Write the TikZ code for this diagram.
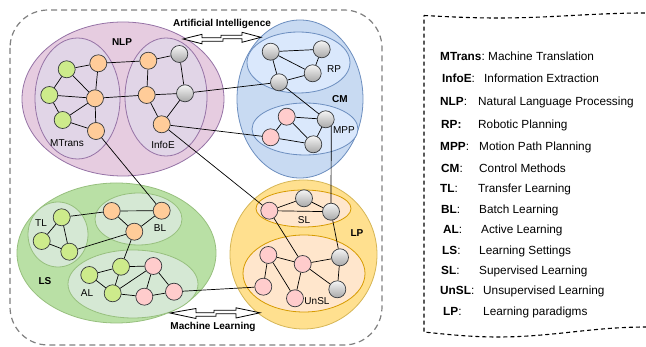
\documentclass[tikz,border=0pt]{standalone}
\usepackage{fontspec}
\setmainfont{Liberation Sans}
\definecolor{ndborder}{HTML}{36393D}
\definecolor{ndgreen}{HTML}{CDEB8B}
\definecolor{ndorange}{HTML}{FFCC99}
\definecolor{ndpink}{HTML}{FFCCCC}
\definecolor{graytop}{HTML}{F5F5F5}
\definecolor{graybot}{HTML}{A8A8A8}
\definecolor{nlpbig}{HTML}{E6CCE0}
\definecolor{nlpin}{HTML}{E1D5E7}
\definecolor{nlpline}{HTML}{9673A6}
\definecolor{cmbig}{HTML}{C8DAF2}
\definecolor{cmin}{HTML}{DAE8FC}
\definecolor{cmline}{HTML}{6C8EBF}
\definecolor{lsbig}{HTML}{B9E0A5}
\definecolor{lsin}{HTML}{D5E8D4}
\definecolor{lsline}{HTML}{97C07E}
\definecolor{lpbig}{HTML}{FFE08F}
\definecolor{lpin}{HTML}{FFE6CC}
\definecolor{lpline}{HTML}{D6B656}
\definecolor{lpinline}{HTML}{D79B00}
\definecolor{outerline}{HTML}{808080}
\begin{document}
\begin{tikzpicture}[x=1pt,y=-1pt,
  nd/.style={circle,draw=ndborder,line width=0.7pt,minimum size=17pt,inner sep=0pt},
  gnode/.style={nd,fill=ndgreen},
  onode/.style={nd,fill=ndorange},
  pnode/.style={nd,fill=ndpink},
  ynode/.style={nd,top color=graytop,bottom color=graybot},
  conn/.style={draw=black,line width=0.7pt},
  lab/.style={font=\fontsize{10}{12}\selectfont,inner sep=0pt},
  blab/.style={font=\fontsize{10}{12}\selectfont\bfseries,inner sep=0pt},
  legk/.style={anchor=west,inner sep=0pt,font=\fontsize{11.8}{14}\selectfont,text height=8.5pt,text depth=2.5pt},
  bigell/.style={line width=0.8pt},
  arrowshape/.style={draw=black,fill=white,line width=0.8pt,line join=miter}
]
\useasboundingbox (0,0) rectangle (646,347);
\fill[white] (0,0) rectangle (646,347);

% outer dashed frame
\draw[outerline,line width=1.2pt,dash pattern=on 6pt off 4pt,rounded corners=38pt] (10,10) rectangle (382,345);

% legend tape shape
\begin{scope}
\clip (0,0) rectangle (646,347);
\draw[black,line width=1.1pt,dash pattern=on 4pt off 3pt]
  (424,15.5) sin (498,18) cos (572,15.5) sin (646,13) cos (720,15.5)
  -- (720,332) sin (646,327) cos (572,332) sin (498,337) cos (424,332) -- cycle;
\end{scope}

% ellipses
\filldraw[bigell,fill=nlpbig,draw=nlpline] (123,99) ellipse [x radius=101pt,y radius=77pt];
\filldraw[bigell,fill=nlpin,draw=nlpline] (77.5,98.5) ellipse [x radius=42.5pt,y radius=60.5pt];
\filldraw[bigell,fill=nlpin,draw=nlpline] (166,97) ellipse [x radius=41pt,y radius=59pt];

\filldraw[bigell,fill=cmbig,draw=cmline] (300,99) ellipse [x radius=63pt,y radius=79pt];
\filldraw[bigell,fill=cmin,draw=cmline] (298.5,62.5) ellipse [x radius=51.5pt,y radius=30.5pt];
\filldraw[bigell,fill=cmin,draw=cmline] (305,129) ellipse [x radius=53pt,y radius=26pt];

\filldraw[bigell,fill=lsbig,draw=lsline] (116.5,253) ellipse [x radius=99.5pt,y radius=70pt];
\filldraw[bigell,fill=lsin,draw=lsline] (58,234.5) ellipse [x radius=30pt,y radius=32.5pt];
\filldraw[bigell,fill=lsin,draw=lsline] (138.5,219) ellipse [x radius=43.5pt,y radius=26pt];
\filldraw[bigell,fill=lsin,draw=lsline] (133,284) ellipse [x radius=65pt,y radius=34pt];

\filldraw[bigell,fill=lpbig,draw=lpline] (303.5,254.5) ellipse [x radius=73.5pt,y radius=74.5pt];
\filldraw[bigell,fill=lpin,draw=lpinline] (303.5,208.5) ellipse [x radius=47.5pt,y radius=18.5pt];
\filldraw[bigell,fill=lpin,draw=lpinline] (304,273.5) ellipse [x radius=61pt,y radius=38.5pt];

% double arrows
\draw[arrowshape] (183,39) -- (202,34.3) -- (202,37.8) -- (221,37.8) -- (221,35.3) -- (242,35.3) -- (242,32.3)
  -- (261,37.3) -- (242,42.3) -- (242,38.8) -- (223,38.8) -- (223,41.3) -- (202,41.3) -- (202,43.8) -- cycle;
\draw[arrowshape] (170,313) -- (196,308.5) -- (196,312.8) -- (214,312.8) -- (214,310.3) -- (236,310.3) -- (236,307.8)
  -- (260,312.8) -- (236,318) -- (236,313.8) -- (216,313.8) -- (216,316.3) -- (196,316.3) -- (196,318.5) -- cycle;

% labels
\node[blab] (tAI) at (222,24) {Artificial Intelligence};
\node[blab] (tML) at (213,327) {Machine Learning};
\node[blab] (tNLP) at (122,42) {NLP};
\node[lab] (tMT) at (67,143) {MTrans};
\node[lab] (tIE) at (163,145) {InfoE};
\node[blab] (tCM) at (340,99) {CM};
\node[lab] (tRP) at (334,69) {RP};
\node[lab] (tMPP) at (344,130) {MPP};
\node[blab] (tLS) at (45,281) {LS};
\node[lab] (tTL) at (41,223) {TL};
\node[lab] (tBL) at (160,228) {BL};
\node[lab] (tAL) at (87,293) {AL};
\node[blab] (tLP) at (357,233) {LP};
\node[lab] (tSL) at (304,220) {SL};
\node[lab] (tUn) at (317,301) {UnSL};

% NLP nodes
\node[gnode] (ng1) at (66.7,69.3) {};
\node[gnode] (ng2) at (49.3,95) {};
\node[gnode] (ng3) at (62.7,120) {};
\node[onode] (noa) at (98.3,63.3) {};
\node[onode] (nob) at (95,98.3) {};
\node[onode] (noc) at (96,131) {};
\node[onode] (iot) at (148.3,60.7) {};
\node[onode] (iom) at (146.7,95) {};
\node[onode] (iob) at (161.7,124.3) {};
\node[ynode] (igt) at (179.3,54) {};
\node[ynode] (igm) at (185,93.3) {};

% CM nodes
\node[ynode] (r1) at (270.7,51.7) {};
\node[ynode] (r2) at (321.7,49.3) {};
\node[ynode] (r3) at (312.7,73.3) {};
\node[ynode] (r4) at (279,82.3) {};
\node[pnode] (mpt) at (286.7,116.7) {};
\node[pnode] (mpl) at (270.7,137.3) {};
\node[ynode] (mgr) at (325.7,119.3) {};
\node[ynode] (mgb) at (313.3,144.3) {};

% LS nodes
\node[gnode] (t1) at (61.7,217.3) {};
\node[gnode] (t2) at (41.7,241) {};
\node[gnode] (t3) at (69.3,251.7) {};
\node[onode] (b1) at (111.7,211) {};
\node[onode] (b2) at (161.7,210.7) {};
\node[onode] (b3) at (134.3,231.7) {};
\node[gnode] (a1) at (89.3,275) {};
\node[gnode] (a2) at (121,266.7) {};
\node[gnode] (a3) at (112.7,293.3) {};
\node[pnode] (ap1) at (153.3,266) {};
\node[pnode] (ap2) at (144.3,296.7) {};
\node[pnode] (ap3) at (174,291.7) {};

% LP nodes
\node[pnode] (sp1) at (269.3,210.7) {};
\node[ynode] (sg1) at (304,198.3) {};
\node[ynode] (sg2) at (331,211.7) {};
\node[pnode] (u1) at (268.3,255) {};
\node[pnode] (u2) at (302.7,264) {};
\node[pnode] (u3) at (263.3,286.7) {};
\node[pnode] (u4) at (295,298.3) {};
\node[ynode] (ug1) at (340,257.3) {};
\node[ynode] (ug2) at (337.3,289.3) {};

% connectors NLP
\draw[conn] (ng1) -- (noa);
\draw[conn] (ng1) -- (ng2);
\draw[conn] (ng1) -- (nob);
\draw[conn] (ng2) -- (nob);
\draw[conn] (ng2) -- (ng3);
\draw[conn] (ng3) -- (nob);
\draw[conn] (ng3) -- (noc);
\draw[conn] (noa) -- (nob);
\draw[conn] (nob) -- (noc);
\draw[conn] (noa) -- (iot);
\draw[conn] (nob) -- (iom);
\draw[conn] (iot) -- (igt);
\draw[conn] (iot) -- (iom);
\draw[conn] (igt) -- (igm);
\draw[conn] (iom) -- (igm);
\draw[conn] (iom) -- (iob);
\draw[conn] (igm) -- (iob);
% CM
\draw[conn] (r1) -- (r2);
\draw[conn] (r1) -- (r3);
\draw[conn] (r2) -- (r3);
\draw[conn] (r1) -- (r4);
\draw[conn] (r4) -- (r3);
\draw[conn] (r4) -- (mgr);
\draw[conn] (mpt) -- (mpl);
\draw[conn] (mpt) -- (mgr);
\draw[conn] (mpt) -- (mgb);
\draw[conn] (mpl) -- (mgb);
\draw[conn] (mgr) -- (mgb);
% cross links
\draw[conn] (igm) -- (r4);
\draw[conn] (iob) -- (mpl);
\draw[conn] (iob) -- (sp1);
\draw[conn] (sg2.north) -- (mgr.-51);
\draw[conn] (noc) -- (b2);
\draw[conn] (ap3) -- (u3);
% LS
\draw[conn] (t1) -- (t2);
\draw[conn] (t1) -- (t3);
\draw[conn] (t2) -- (t3);
\draw[conn] (t1) -- (b1);
\draw[conn] (t3) -- (b3);
\draw[conn] (b1) -- (b2);
\draw[conn] (b1) -- (b3);
\draw[conn] (b3) -- (b2);
\draw[conn] (b3) -- (a2);
\draw[conn] (a1) -- (a2);
\draw[conn] (a1) -- (a3);
\draw[conn] (a2) -- (a3);
\draw[conn] (a2) -- (ap1);
\draw[conn] (a3) -- (ap1);
\draw[conn] (a3) -- (ap2);
\draw[conn] (ap1) -- (ap2);
\draw[conn] (ap1) -- (ap3);
\draw[conn] (ap2) -- (ap3);
% LP
\draw[conn] (sp1) -- (sg1);
\draw[conn] (sg1) -- (sg2);
\draw[conn] (sp1) -- (sg2);
\draw[conn] (sp1) -- (u2);
\draw[conn] (sg2) -- (ug1);
\draw[conn] (u1) -- (u2);
\draw[conn] (u1) -- (u3);
\draw[conn] (u1) -- (u4);
\draw[conn] (u2) -- (u4);
\draw[conn] (u2) -- (ug1);
\draw[conn] (u2) -- (ug2);
\draw[conn] (ug1) -- (ug2);

% legend
\node[legk] (k1) at (440,58) {\textbf{MTrans}:};
\node[legk] (d1) at (488,58) {Machine Translation};
\node[legk] (k2) at (442,80) {\textbf{InfoE}:};
\node[legk] (d2) at (484,80) {Information Extraction};
\node[legk] (k3) at (440,103) {\textbf{NLP}:};
\node[legk] (d3) at (478,103) {Natural Language Processing};
\node[legk] (k4) at (441,126) {\textbf{RP:}};
\node[legk] (d4) at (478,126) {Robotic Planning};
\node[legk] (k5) at (440,148) {\textbf{MPP}:};
\node[legk] (d5) at (479,148) {Motion Path Planning};
\node[legk] (k6) at (441,170) {\textbf{CM}:};
\node[legk] (d6) at (479,170) {Control Methods};
\node[legk] (k7) at (440,190) {\textbf{TL}:};
\node[legk] (d7) at (478,190) {Transfer Learning};
\node[legk] (k8) at (441,211) {\textbf{BL}:};
\node[legk] (d8) at (479,211) {Batch Learning};
\node[legk] (k9) at (443,231) {\textbf{AL}:};
\node[legk] (d9) at (481,231) {Active Learning};
\node[legk] (k10) at (442,252) {\textbf{LS}:};
\node[legk] (d10) at (479,252) {Learning Settings};
\node[legk] (k11) at (441,272) {\textbf{SL}:};
\node[legk] (d11) at (479,272) {Supervised Learning};
\node[legk] (k12) at (440,292) {\textbf{UnSL}:};
\node[legk] (d12) at (483,292) {Unsupervised Learning};
\node[legk] (k13) at (443,313) {\textbf{LP}:};
\node[legk] (d13) at (483,313) {Learning paradigms};
\end{tikzpicture}
\end{document}
